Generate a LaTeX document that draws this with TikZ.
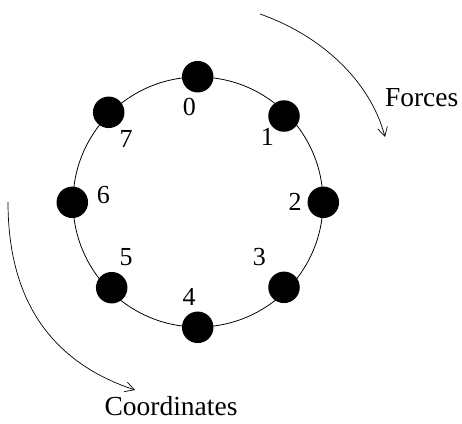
\documentclass[tikz,border=0pt]{standalone}
\usepackage{fontspec}
\setmainfont{Liberation Serif}
\usetikzlibrary{arrows.meta}
\begin{document}
\begin{tikzpicture}[x=1pt,y=-1pt,
  dot/.style={circle,fill=black,minimum size=31.5pt,inner sep=0pt},
  lbl/.style={inner sep=0pt,font=\fontsize{26}{26}\selectfont},
  ring/.style={line width=0.8pt},
  flow/.style={line width=0.7pt,-{Straight Barb[length=9pt,width=10pt,line width=0.7pt]}}]
\useasboundingbox (0,0) rectangle (462,423);
\coordinate (c) at (198,202);
\draw[ring] (c) circle[radius=125];
\node[dot] (n0) at (197.7,76.7) {};
\node[dot] (n1) at (284,116) {};
\node[dot] (n2) at (323.3,202.3) {};
\node[dot] (n3) at (284,287.3) {};
\node[dot] (n4) at (197.7,327.3) {};
\node[dot] (n5) at (111.7,287.7) {};
\node[dot] (n6) at (72.3,202.3) {};
\node[dot] (n7) at (108.7,112.3) {};
\node[lbl] (l0) at (189.3,107.3) {0};
\node[lbl] (l1) at (267.3,137.3) {1};
\node[lbl] (l2) at (295,202.3) {2};
\node[lbl] (l3) at (259.3,256.7) {3};
\node[lbl] (l4) at (189,296.7) {4};
\node[lbl] (l5) at (126,256.7) {5};
\node[lbl] (l6) at (103.3,195) {6};
\node[lbl] (l7) at (126,139.3) {7};
\node[lbl,font=\fontsize{27.5}{27.5}\selectfont] (forces) at (421.7,98) {Forces};
\node[lbl,font=\fontsize{27.5}{27.5}\selectfont] (coords) at (171,406.5) {Coordinates};
\coordinate (fs) at (260,14);
\coordinate (fe) at (385,137);
\draw[flow] (fs) .. controls (320,35) and (370,80) .. (fe);
\coordinate (cs) at (8,202);
\coordinate (ce) at (135,390);
\draw[flow] (cs) .. controls (8,310) and (60,365) .. (ce);
\end{tikzpicture}
\end{document}
